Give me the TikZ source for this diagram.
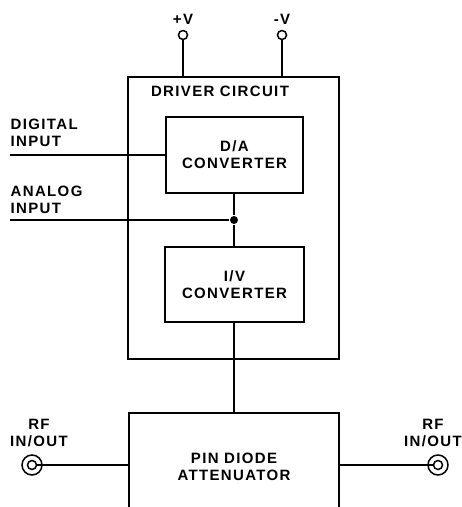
\documentclass[tikz,border=0pt]{standalone}
\usepackage{fontspec}
\setmainfont[LetterSpace=9]{Liberation Sans}
\usepackage{tikz}
\usetikzlibrary{positioning, calc}

\begin{document}
\begin{tikzpicture}[
    x=1pt, y=-1pt,
    line width=1.4pt,
    blockbox/.style={rectangle, draw, line width=1.4pt, inner sep=0pt},
    lbl/.style={inner sep=0pt, align=center, font=\fontsize{15}{17}\selectfont\bfseries},
    term/.style={circle, draw, line width=1.5pt, minimum size=9pt, inner sep=0pt},
    jdot/.style={circle, fill, minimum size=8pt, inner sep=0pt},
    wire/.style={line width=1.4pt}
]
    \useasboundingbox (0,0) rectangle (462,507);
    \clip (0,0) rectangle (462,507);

    % blocks
    \node[blockbox, minimum width=211pt, minimum height=282pt] (driver) at (233.5,218) {};
    \node[lbl] (drvlbl) at (220,91) {DRIVER CIRCUIT};
    \node[blockbox, minimum width=137pt, minimum height=76pt, lbl] (da) at (234.5,155) {D/A\\CONVERTER};
    \node[blockbox, minimum width=139pt, minimum height=75pt, lbl] (iv) at (234.5,284.5) {I/V\\CONVERTER};
    \node[blockbox, minimum width=210pt, minimum height=160pt] (pin) at (234,493) {};
    \node[lbl] (pintxt) at (234,467) {PIN DIODE\\ATTENUATOR};

    % supply terminals
    \node[term] (pv) at (183,35) {};
    \node[lbl, above=5pt of pv] (pvlbl) {+V};
    \node[term] (mv) at (282,35) {};
    \node[lbl, above=5pt of mv] (mvlbl) {-V};
    \draw[wire] (pv.south) -- (pv.south |- driver.north);
    \draw[wire] (mv.south) -- (mv.south |- driver.north);

    % inputs
    \coordinate (din) at (10,155);
    \node[lbl, align=left, anchor=west] (dlbl) at (10,133) {DIGITAL\\INPUT};
    \coordinate (ain) at (10,220);
    \node[lbl, align=left, anchor=west] (albl) at (10,200) {ANALOG\\INPUT};
    \node[jdot] (junc) at (234,220) {};
    \draw[wire] (din) -- (da.west);
    \draw[wire] (ain) -- (junc);
    \draw[wire] (da.south -| junc) -- (junc) -- (iv.north -| junc);
    \draw[wire] (iv.south -| junc) -- (pin.north -| junc);

    % rf ports
    \node[term] (rfl) at (32,465) {};
    \draw[line width=1.5pt] (rfl) circle (10pt);
    \node[term] (rfr) at (438,465) {};
    \draw[line width=1.5pt] (rfr) circle (10pt);
    \node[lbl] (rfllbl) at (39,433) {RF\\IN/OUT};
    \node[lbl] (rfrlbl) at (433,433) {RF\\IN/OUT};
    \draw[wire] (rfl.east) -- (pin.west |- rfl);
    \draw[wire] (pin.east |- rfr) -- (rfr.west);
\end{tikzpicture}
\end{document}
